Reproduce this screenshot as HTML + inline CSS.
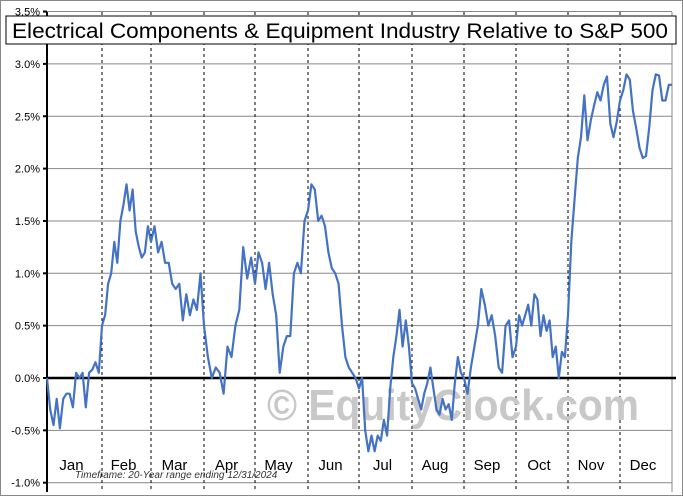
<!DOCTYPE html>
<html><head><meta charset="utf-8"><style>
html,body{margin:0;padding:0;background:#fff;}
svg{display:block;font-family:"Liberation Sans",sans-serif;}
</style></head><body>
<svg id="chart" width="683" height="496" viewBox="0 0 683 496">
<rect x="0.5" y="0.5" width="682" height="495" fill="#fff" stroke="#888"/>
<g id="grid"></g>
<text x="75" y="478" font-size="10" font-style="italic" fill="#333">Timeframe: 20-Year range ending 12/31/2024</text>
<text x="453" y="420" font-size="44" font-weight="bold" fill="#c8c8c8" text-anchor="middle" textLength="372" lengthAdjust="spacingAndGlyphs">© EquityClock.com</text>
<g id="series"></g>
<rect x="6" y="16" width="670" height="28" fill="#fff" stroke="#000"/>
<text x="12" y="38" font-size="21" fill="#000" textLength="656" lengthAdjust="spacingAndGlyphs">Electrical Components &amp; Equipment Industry Relative to S&amp;P 500</text>
</svg>
<script>
const months = ["Jan","Feb","Mar","Apr","May","Jun","Jul","Aug","Sep","Oct","Nov","Dec"];
const yTicks = [3.5,3.0,2.5,2.0,1.5,1.0,0.5,0.0,-0.5,-1.0];
const janVals = [0,-0.3,-0.45,-0.2,-0.48,-0.2,-0.15,-0.15,-0.28,0.05,0.0,0.05,-0.28,0.05,0.08,0.15,0.05];
const febVals = [0.5,0.6,0.9,1.0,1.3,1.1,1.5,1.65,1.85,1.6,1.8,1.4,1.25,1.15,1.2,1.45];
const marVals = [1.3,1.45,1.2,1.3,1.1,1.1,0.9,0.85,0.9,0.55,0.8,0.6,0.75,0.65,1.0];
const aprVals = [0.5,0.2,0.0,0.1,0.05,-0.15,0.3,0.2,0.5,0.65,1.25,0.95,1.15];
const mayVals = [0.9,1.2,1.1,0.85,1.1,0.8,0.6,0.05,0.3,0.4,0.4,1.0,1.1,1.0,1.5];
const junVals = [1.6,1.85,1.8,1.5,1.55,1.45,1.2,1.05,1.0,0.9,0.5,0.2,0.1,0.05,0.0];
const julVals = [-0.1,0.0,-0.5,-0.7,-0.55,-0.7,-0.55,-0.6,-0.4,-0.55,-0.1,0.2,0.4,0.65,0.3,0.55,0.3];
const augVals = [-0.05,-0.1,-0.2,-0.3,-0.15,-0.05,0.1,-0.1,-0.3,-0.35,-0.2,-0.3,-0.25,-0.4,-0.05,0.2,0.05];
const sepVals = [0.0,-0.15,0.1,0.3,0.5,0.85,0.7,0.5,0.6,0.4,0.1,0.05,0.5,0.55,0.2];
const octVals = [0.3,0.6,0.5,0.6,0.7,0.5,0.8,0.75,0.4,0.6,0.45,0.55,0.2,0.3,0.0,0.25,0.2];
const novVals = [0.6,1.3,1.7,2.1,2.3,2.7,2.27,2.46,2.6,2.73,2.65,2.8,2.88,2.43,2.3,2.45];
const decVals = [2.65,2.75,2.9,2.85,2.55,2.38,2.2,2.1,2.12,2.4,2.75,2.9,2.89,2.65,2.65,2.8];
const monthVals = [janVals,febVals,marVals,aprVals,mayVals,junVals,julVals,augVals,sepVals,octVals,novVals,decVals];

const X0=47, X1=672, Y0=378, PXPER=104.7;
const monthEdges=[47,102,151,204,255,308,359,412,464,516,568,620,672];
function xScale(m,frac){return monthEdges[m]+(monthEdges[m+1]-monthEdges[m])*frac;}
function yScale(v){return Y0 - v*PXPER;}
const NS="http://www.w3.org/2000/svg";
const grid=document.getElementById('grid');
function mk(tag,attrs,parent){const e=document.createElementNS(NS,tag);for(const k in attrs)e.setAttribute(k,attrs[k]);parent.appendChild(e);return e;}

yTicks.forEach(t=>{
  const y=yScale(t);
  if(t!==0){
    const l=mk('line',{x1:X0,x2:X1,y1:y,y2:y,stroke:'#888','stroke-width':1},grid);
    
    
  }
  const tk=mk('line',{x1:X0-4,x2:X0,y1:y,y2:y,stroke:'#000','stroke-width':2},grid);
  
  
  const tx=mk('text',{x:X0-7,y:y+4,'font-size':11,'text-anchor':'end',fill:'#000'},grid);
  tx.textContent=t.toFixed(1)+'%';
  
  
});
for(let i=1;i<12;i++){
  const l=mk('line',{x1:monthEdges[i],x2:monthEdges[i],y1:12,y2:492,stroke:'#000','stroke-width':1,'stroke-dasharray':'3,3'},grid);
  
  
}
months.forEach((m,i)=>{
  const tx=mk('text',{x:(monthEdges[i]+monthEdges[i+1])/2-3,y:470,'font-size':15,'text-anchor':'middle',fill:'#000'},grid);
  tx.textContent=m;
  
  
});
const ax=mk('line',{x1:X0,x2:X0,y1:12,y2:492,stroke:'#000','stroke-width':2},grid);


const rx=mk('line',{x1:X1,x2:X1,y1:12,y2:492,stroke:'#888','stroke-width':1},grid);


const zl=mk('line',{x1:X0,x2:X1+4,y1:Y0,y2:Y0,stroke:'#000','stroke-width':2.5},grid);



let pts=[];
monthVals.forEach((vals,m)=>{
  vals.forEach((v,i)=>{pts.push([xScale(m,i/vals.length),yScale(v)]);});
});
pts.push([xScale(11,1),yScale(decVals[decVals.length-1])]);
const path=mk('polyline',{points:pts.map(p=>p[0].toFixed(1)+','+p[1].toFixed(1)).join(' '),fill:'none',stroke:'#4472c4','stroke-width':2.2,'stroke-linejoin':'round'},document.getElementById('series'));


</script>
</body></html>
